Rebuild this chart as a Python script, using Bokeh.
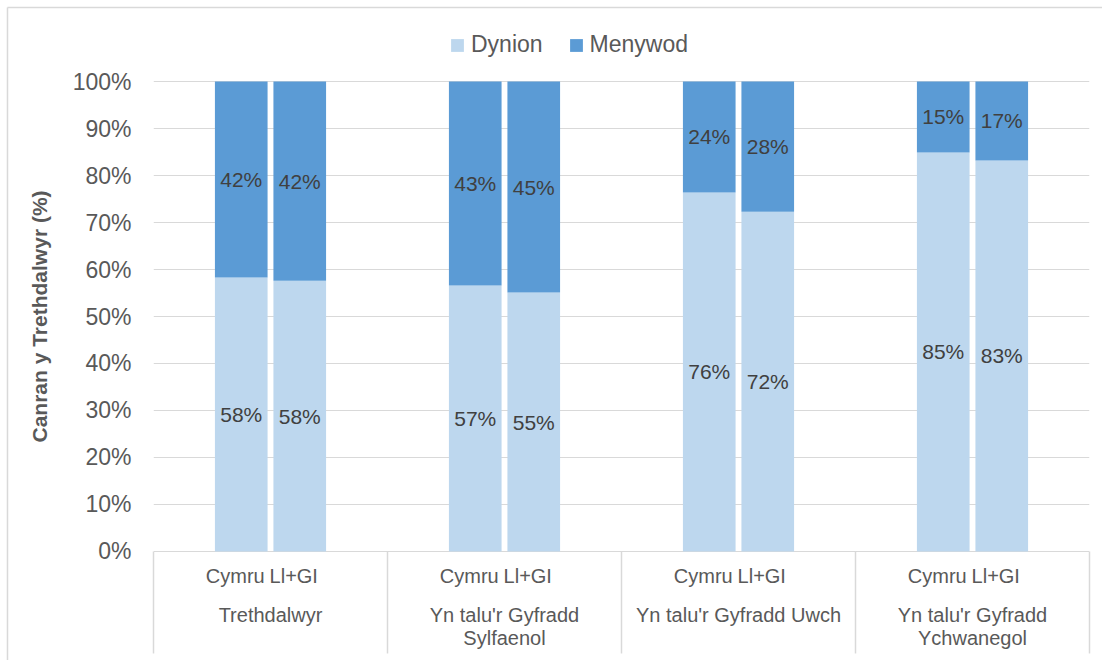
from bokeh.plotting import figure
from bokeh.models import (ColumnDataSource, FactorRange, Range1d, NumeralTickFormatter,
                          FixedTicker, Legend, LegendItem)
from bokeh.core.properties import value
from bokeh.embed import file_html
from bokeh.resources import INLINE

# ---------------- data ----------------
groups = ["Trethdalwyr", "Yn talu'r Gyfradd\nSylfaenol", "Yn talu'r Gyfradd Uwch",
          "Yn talu'r Gyfradd\nYchwanegol"]
regions = ["Cymru", "Ll+GI"]
series = ["Dynion", "Menywod"]
dynion = [0.583, 0.576, 0.566, 0.551, 0.764, 0.723, 0.849, 0.832]
menywod = [0.417, 0.424, 0.434, 0.449, 0.236, 0.277, 0.151, 0.168]
y_ticks = [0.0, 0.1, 0.2, 0.3, 0.4, 0.5, 0.6, 0.7, 0.8, 0.9, 1.0]

colors = ["#bdd7ee", "#5b9bd5"]
FONT = value("Liberation Sans")
TXT = "#595959"
GRID = "#d9d9d9"

factors = [(g, r) for g in groups for r in regions]

# frame spans legend area on top and label area at bottom, so the
# y-axis title is centred on the 0-100% span as in the reference
p = figure(x_range=FactorRange(*factors, group_padding=2.0, range_padding=1.0,
                               range_padding_units="absolute"),
           y_range=Range1d(-0.1298, 1.1298), width=1102, height=660,
           output_backend="svg", toolbar_location=None, title=None,
           min_border_left=153, min_border_right=13, min_border_top=20,
           min_border_bottom=48)

src = ColumnDataSource(dict(x=factors, Dynion=dynion, Menywod=menywod))
rs = p.vbar_stack(series, x="x", width=0.9, source=src, fill_color=colors, line_color=None)

# data labels
mid_d = [d / 2 for d in dynion]
mid_m = [d + m / 2 for d, m in zip(dynion, menywod)]
lab_src = ColumnDataSource(dict(
    x=factors + factors,
    y=mid_d + mid_m,
    t=[f"{round(v * 100)}%" for v in dynion] + [f"{round(v * 100)}%" for v in menywod]))
p.text(x="x", y="y", text="t", source=lab_src, text_align="center", text_baseline="middle",
       text_font=FONT, text_font_size="21px", text_color="#404040")

# axes / grid
p.xaxis.visible = False
p.xgrid.grid_line_color = None
p.ygrid.ticker = FixedTicker(ticks=y_ticks)
p.ygrid.grid_line_color = GRID
p.outline_line_color = None
ya = p.yaxis[0]
ya.ticker = FixedTicker(ticks=y_ticks)
ya.formatter = NumeralTickFormatter(format="0%")
ya.axis_line_color = None
ya.major_tick_line_color = None
ya.minor_tick_line_color = None
ya.major_tick_out = 0
ya.major_label_standoff = 22
ya.major_label_text_font = "Liberation Sans"
ya.major_label_text_font_size = "23px"
ya.major_label_text_color = TXT
ya.axis_label = "Canran y Trethdalwyr (%)"
ya.axis_label_text_font = "Liberation Sans"
ya.axis_label_text_font_size = "21px"
ya.axis_label_text_font_style = "bold"
ya.axis_label_text_color = TXT
ya.axis_label_standoff = 19

# category labels below the bars (multi-level axis look)
sub_src = ColumnDataSource(dict(x=factors, t=[f[1] for f in factors]))
p.text(x="x", y=-0.052, text="t", source=sub_src, text_align="center", text_baseline="middle",
       x_offset=-6, text_font=FONT, text_font_size="20px", text_color=TXT, level="overlay")
line1 = [g.split("\n")[0] for g in groups]
line2 = [g.split("\n")[1] if "\n" in g else "" for g in groups]
grp_src = ColumnDataSource(dict(x=groups, l1=line1, l2=line2))
p.text(x="x", y=-0.135, text="l1", source=grp_src, text_align="center", text_baseline="middle",
       text_font=FONT, text_font_size="20px", text_color=TXT, level="overlay")
p.text(x="x", y=-0.183, text="l2", source=grp_src, text_align="center", text_baseline="middle",
       text_font=FONT, text_font_size="20px", text_color=TXT, level="overlay")
sep_x = [[g, -2.0] for g in groups] + [[groups[-1], 2.0]]
sep_src = ColumnDataSource(dict(x=sep_x))
p.segment(x0="x", y0=0, x1="x", y1=-0.217, source=sep_src, line_color=GRID,
          line_width=1.5, level="overlay")

# outer chart border (top and left edges visible in the picture)
p.segment(x0=[[groups[0], -4.496]], y0=[1.1574], x1=[[groups[-1], 2.5]], y1=[1.1574],
          line_color=GRID, line_width=1.5, level="overlay")
p.segment(x0=[[groups[0], -4.496]], y0=[1.1574], x1=[[groups[0], -4.496]], y1=[-0.26],
          line_color=GRID, line_width=1.5, level="overlay")

legend = Legend(items=[LegendItem(label=s, renderers=[r]) for s, r in zip(series, rs)],
                orientation="horizontal", location=(296, 554),
                glyph_width=16, glyph_height=16, label_standoff=6, spacing=25,
                label_text_font="Liberation Sans", label_text_font_size="23px",
                label_text_color=TXT, border_line_color=None, background_fill_alpha=0,
                padding=5, margin=0)
p.add_layout(legend)

open("out.html", "w").write(file_html(p, INLINE))
